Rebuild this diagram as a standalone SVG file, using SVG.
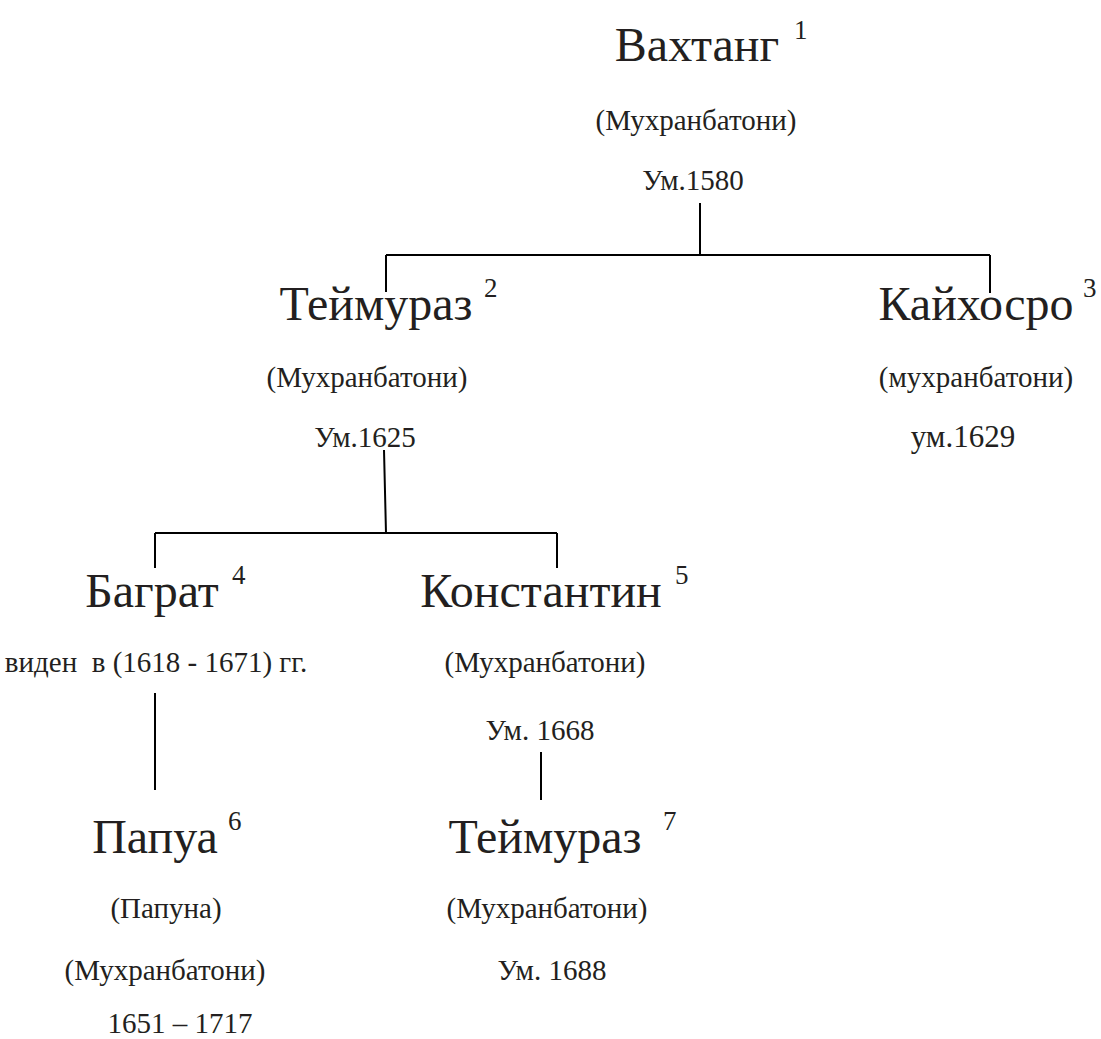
<svg xmlns="http://www.w3.org/2000/svg" width="1101" height="1039" viewBox="0 0 1101 1039">
<style>
text{font-family:"Liberation Serif","Times New Roman",serif;fill:#231f20;white-space:pre}
.n{font-size:48px;text-anchor:middle}
.s{font-size:29px;text-anchor:middle}
.sup{font-size:27px}
.c{stroke:#000;stroke-width:2;fill:none}
</style>
<rect width="1101" height="1039" fill="#fff"/>
<g id="connectors">
<path class="c" d="M700,203V255M386,255H990M386,255V292M990,255V293"/>
<path class="c" d="M384,450L386,533M155,533H557M155,533V568M557,533V568"/>
<path class="c" d="M155,693V790M541,752V800"/>
</g>
<g id="n1"><text class="n" x="697" y="61">Вахтанг</text><text class="sup" x="794" y="39">1</text>
<text class="s" x="696" y="130">(Мухранбатони)</text><text class="s" x="693" y="190">Ум.1580</text></g>
<g id="n2"><text class="n" x="376" y="320">Теймураз</text><text class="sup" x="484" y="297">2</text>
<text class="s" x="367" y="387">(Мухранбатони)</text><text class="s" x="365" y="447">Ум.1625</text></g>
<g id="n3"><text class="n" x="976" y="320">Кайхосро</text><text class="sup" x="1083" y="297">3</text>
<text class="s" x="976" y="387">(мухранбатони)</text><text class="s" x="963" y="447" style="font-size:31px">ум.1629</text></g>
<g id="n4"><text class="n" x="152" y="607">Баграт</text><text class="sup" x="232" y="584">4</text>
<text class="s" x="156" y="672">виден  в (1618 - 1671) гг.</text></g>
<g id="n5"><text class="n" x="541" y="607">Константин</text><text class="sup" x="675" y="584">5</text>
<text class="s" x="545" y="672">(Мухранбатони)</text><text class="s" x="540" y="740">Ум. 1668</text></g>
<g id="n6"><text class="n" x="155" y="853">Папуа</text><text class="sup" x="228" y="830">6</text>
<text class="s" x="166" y="918">(Папуна)</text><text class="s" x="165" y="980">(Мухранбатони)</text><text class="s" x="180" y="1033">1651 – 1717</text></g>
<g id="n7"><text class="n" x="545" y="853">Теймураз</text><text class="sup" x="663" y="830">7</text>
<text class="s" x="547" y="918">(Мухранбатони)</text><text class="s" x="552" y="980">Ум. 1688</text></g>
</svg>
